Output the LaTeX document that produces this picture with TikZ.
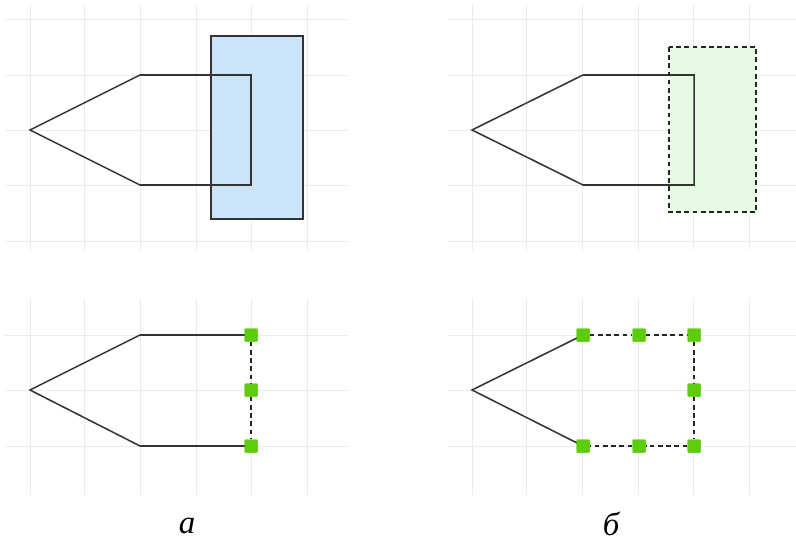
\documentclass[tikz,border=0pt]{standalone}
\usepackage{fontspec}
\setmainfont{Liberation Serif}
\definecolor{selblue}{HTML}{CCE5FA}
\definecolor{selgreen}{HTML}{E6FBE2}
\definecolor{handlegreen}{HTML}{5CCC0C}
\begin{document}
\begin{tikzpicture}[x=0.03cm,y=-0.03cm,
  gridline/.style={black!8, line width=0.7pt},
  outline/.style={black!80, line width=1.3pt},
  selline/.style={black!85, line width=1.3pt, dash pattern=on 4pt off 3pt},
  handle/.style={draw=none, fill=handlegreen, minimum size=0.39cm,
    inner sep=0pt, rounded corners=0.5pt},
  caption/.style={font=\fontsize{28}{30}\selectfont\itshape}]
  \useasboundingbox (0,0) rectangle (796,542);
  % grids
  \foreach \dx/\xa/\xb in {0/5/348, 442/448/796} {
    \foreach \y in {19,75,130,185,241}
      \draw[gridline] (\xa,\y) -- (\xb,\y);
    \foreach \y in {335,390,446}
      \draw[gridline] (\xa,\y) -- (\xb,\y);
    \foreach \x in {30,84,140,196,251,307} {
      \draw[gridline] (\x+\dx,5) -- (\x+\dx,250);
      \draw[gridline] (\x+\dx,298) -- (\x+\dx,495);
    }
  }
  % top left: blue selection
  \fill[selblue] (211,36) rectangle (303,219);
  \draw[outline] (30,130) -- (140,75) -- (251,75) -- (251,185) -- (140,185) -- cycle;
  \draw[outline] (211,36) rectangle (303,219);
  % top right: dashed green selection
  \fill[selgreen] (669,47) rectangle (756,212);
  \draw[outline] (472,130) -- (583,75) -- (694,75) -- (694,185) -- (583,185) -- cycle;
  \draw[selline] (669,47) rectangle (756,212);
  % bottom left
  \node[handle] (a1) at (251,335) {};
  \node[handle] (a2) at (251,390) {};
  \node[handle] (a3) at (251,446) {};
  \coordinate (atip) at (30,390);
  \coordinate (atop) at (140,335);
  \coordinate (abot) at (140,446);
  \draw[outline] (a1.center) -- (atop) -- (atip) -- (abot) -- (a3.center);
  \draw[selline] (a1) -- (a2) (a2) -- (a3);
  \foreach \n in {a1,a2,a3} \node[handle] at (\n) {};
  % bottom right
  \node[handle] (b1) at (583,335) {};
  \node[handle] (b2) at (639,335) {};
  \node[handle] (b3) at (694,335) {};
  \node[handle] (b4) at (694,390) {};
  \node[handle] (b5) at (694,446) {};
  \node[handle] (b6) at (639,446) {};
  \node[handle] (b7) at (583,446) {};
  \coordinate (btip) at (472,390);
  \draw[outline] (b1.center) -- (btip) -- (b7.center);
  \draw[selline] (b1) -- (b2) -- (b3) -- (b4) -- (b5) -- (b6) -- (b7);
  \foreach \n in {b1,b2,b3,b4,b5,b6,b7} \node[handle] at (\n) {};
  % captions
  \node[caption] (capa) at (187,526) {а};
  \node[caption] (capb) at (611,524) {б};
\end{tikzpicture}
\end{document}
